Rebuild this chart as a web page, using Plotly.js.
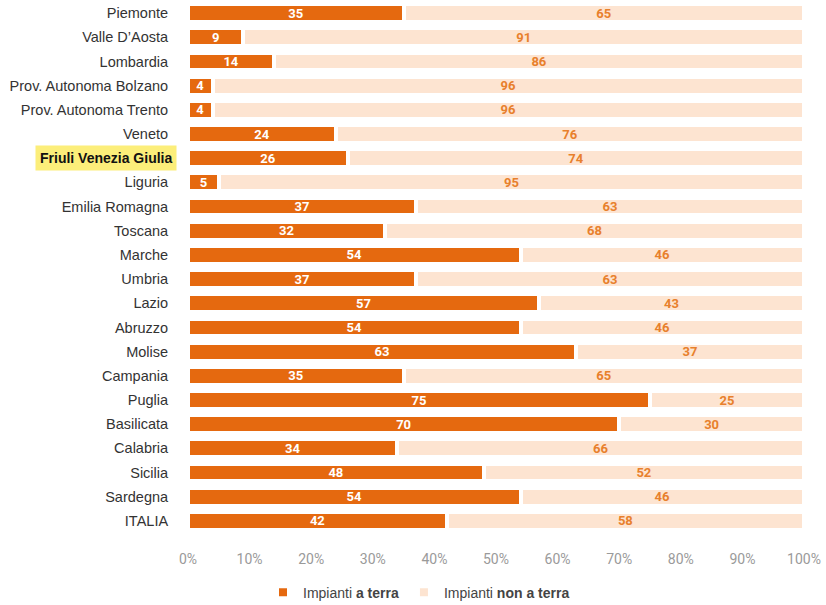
<!DOCTYPE html>
<html>
<head>
<meta charset="utf-8">
<script src="https://cdn.plot.ly/plotly-3.0.1.min.js"></script>
<style>html,body{margin:0;padding:0;background:#fff;}#chart{width:826px;height:605px;}</style>
</head>
<body>
<div id="chart"></div>
<script>
const regions = ["Piemonte","Valle D’Aosta","Lombardia","Prov. Autonoma Bolzano","Prov. Autonoma Trento","Veneto","Friuli Venezia Giulia","Liguria","Emilia Romagna","Toscana","Marche","Umbria","Lazio","Abruzzo","Molise","Campania","Puglia","Basilicata","Calabria","Sicilia","Sardegna","ITALIA"];
const aTerra = [35,9,14,4,4,24,26,5,37,32,54,37,57,54,63,35,75,70,34,48,54,42];
const nonATerra = [65,91,86,96,96,76,74,95,63,68,46,63,43,46,37,65,25,30,66,52,46,58];
const highlight = "Friuli Venezia Giulia";
const xTickVals = [0,10,20,30,40,50,60,70,80,90,100];
const xTickText = ["0%","10%","20%","30%","40%","50%","60%","70%","80%","90%","100%"];

const dark = "#E5690F";
const light = "#FDE4D1";
const valFont = "Liberation Sans Narrow, Roboto, Arial";

const traces = [
  {
    type: "bar", orientation: "h", name: "Impianti <b>a terra</b>",
    y: regions, x: aTerra, text: aTerra.map(String),
    textposition: "inside", insidetextanchor: "middle", textangle: 0,
    constraintext: "none",
    textfont: {family: valFont, size: 13, color: "#ffffff", weight: 700},
    marker: {color: dark, line: {color: "#ffffff", width: 4}},
    hoverinfo: "skip"
  },
  {
    type: "bar", orientation: "h", name: "Impianti <b>non a terra</b>",
    y: regions, x: nonATerra, text: nonATerra.map(String),
    textposition: "inside", insidetextanchor: "middle", textangle: 0,
    constraintext: "none",
    textfont: {family: valFont, size: 13, color: "#E8802C", weight: 700},
    marker: {color: light, line: {color: "#ffffff", width: 4}},
    hoverinfo: "skip"
  }
];

const layout = {
  width: 826, height: 605,
  margin: {l: 188, r: 22, t: 1, b: 72, autoexpand: false},
  paper_bgcolor: "#ffffff", plot_bgcolor: "#ffffff",
  barmode: "stack", bargap: 0.26,
  font: {family: "Liberation Sans, Arial", color: "#333"},
  xaxis: {
    range: [0, 100], tickvals: xTickVals, ticktext: xTickText,
    showgrid: false, zeroline: false, showline: false,
    ticks: "outside", ticklen: 13, tickcolor: "rgba(0,0,0,0)",
    tickfont: {family: "Liberation Sans Narrow, Roboto, Arial", size: 14, color: "#9a9a9a"},
    fixedrange: true
  },
  yaxis: {
    range: [21.5, -0.5], categoryorder: "array", categoryarray: regions,
    tickvals: regions,
    ticktext: regions.map(r => r === highlight ? " " : r),
    showgrid: false, zeroline: false, showline: false,
    ticks: "outside", ticklen: 16, tickcolor: "rgba(0,0,0,0)",
    tickfont: {family: "Liberation Sans, Arial", size: 14.5, color: "#333"},
    fixedrange: true
  },
  annotations: [{
    xref: "paper", yref: "y", x: 0, y: highlight, xanchor: "right", yanchor: "middle",
    xshift: -11, text: "<b>" + highlight + "</b>", showarrow: false,
    bgcolor: "#FCEE7A", borderpad: 4,
    font: {family: "Liberation Sans, Arial", size: 14, color: "#111"}
  }],
  showlegend: true,
  legend: {
    orientation: "h", traceorder: "normal", x: 0.375, xanchor: "center", y: -0.112, yanchor: "middle",
    font: {family: "Liberation Sans, Arial", size: 14, color: "#444"},
    itemwidth: 30, bgcolor: "rgba(0,0,0,0)"
  }
};

Plotly.newPlot("chart", traces, layout, {displayModeBar: false, staticPlot: true});
</script>
</body>
</html>
